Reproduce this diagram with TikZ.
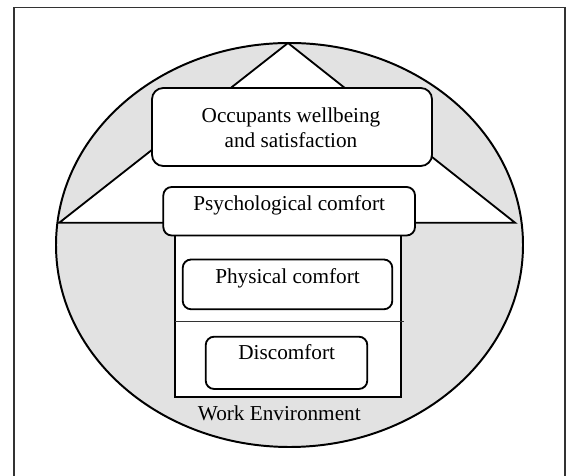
\documentclass[tikz,border=0pt]{standalone}
\usepackage{fontspec}
\setmainfont{Liberation Serif}
\definecolor{envgray}{RGB}{226,226,226}
\tikzstyle{every picture}+=[remember picture]

\begin{document}
\begin{tikzpicture}[
	lbl/.style={anchor=base,inner sep=0pt,font=\fontsize{15.1}{18}\selectfont},
	boxline/.style={draw=black,line width=1.3pt,fill=white,rounded corners=6pt}]
	\useasboundingbox (0,0) rectangle (14.175,11.9);
	% frame, open at the bottom
	\draw[black!80,line width=0.9pt] (0.35,0) -- (0.35,11.7125) -- (14.125,11.7125) -- (14.125,0);
	% work environment
	\filldraw[fill=envgray,draw=black,line width=1.4pt] (7.2375,5.775) ellipse (5.8375 and 5.05);
	\coordinate (T) at (7.2,10.825);
	\coordinate (L) at (1.4825,6.3325);
	\coordinate (R) at (12.875,6.3325);
	\filldraw[fill=white,draw=black,line width=1.3pt,line join=miter] (T) -- (L) -- (R) -- cycle;
	\filldraw[fill=white,draw=black,line width=1.3pt] (4.375,6.1) rectangle (10.0175,1.9825);
	\draw[black!80,line width=0.8pt] (4.375,3.8575) -- (10.1,3.8575);
	% levels
	\draw[boxline,rounded corners=8pt] (3.8,9.7) rectangle (10.8,7.75);
	\draw[boxline] (4.0825,7.225) rectangle (10.375,6.0125);
	\draw[boxline] (4.5675,5.4125) rectangle (9.8075,4.1675);
	\draw[boxline] (5.1425,3.4825) rectangle (9.1825,2.175);
	\node[lbl] (occ1) at (7.275,8.8325) {Occupants wellbeing};
	\node[lbl] (occ2) at (7.275,8.2075) {and satisfaction};
	\node[lbl] (psy) at (7.23,6.625) {Psychological comfort};
	\node[lbl] (phy) at (7.1875,4.8175) {Physical comfort};
	\node[lbl] (dis) at (7.1675,2.9) {Discomfort};
	\node[lbl] (env) at (6.9825,1.3825) {Work Environment};
\end{tikzpicture}
\end{document}
